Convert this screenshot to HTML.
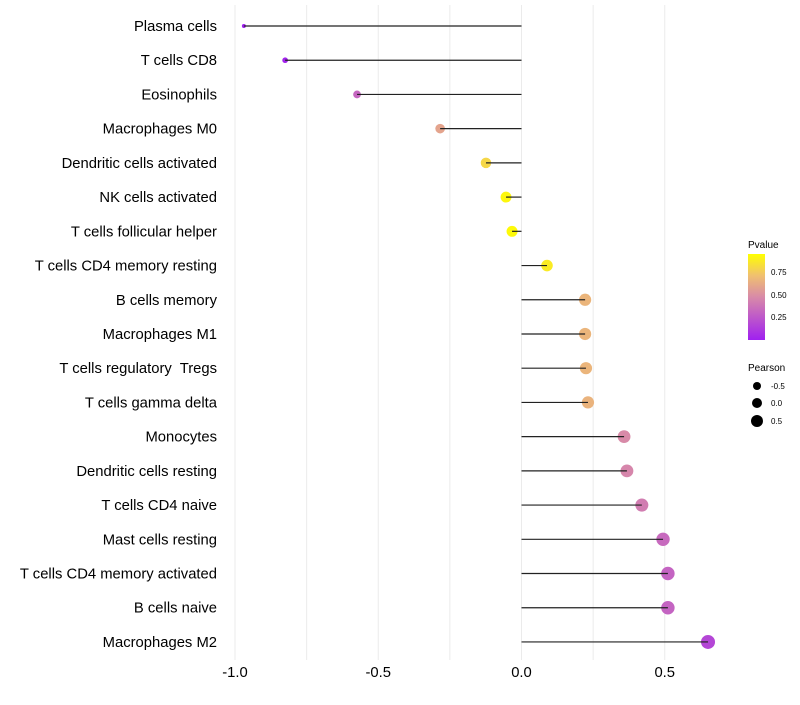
<!DOCTYPE html>
<html><head><meta charset="utf-8"><style>
body{margin:0;background:#fff;font-family:"Liberation Sans",sans-serif}
text{white-space:pre}
</style></head><body>
<svg id="chart" width="800" height="700" xmlns="http://www.w3.org/2000/svg" font-family="Liberation Sans, sans-serif">
<defs><linearGradient id="pg" x1="0" y1="1" x2="0" y2="0">
<stop offset="0" stop-color="#a020f0"/><stop offset="0.5" stop-color="#d88aa8"/><stop offset="0.75" stop-color="#f0c070"/><stop offset="1" stop-color="#ffff00"/></linearGradient></defs>
<g id="grid"></g>
<g id="marks"></g>
<g id="labels"></g>
<g id="ticks"></g>
<g>
<text x="748" y="248" font-size="10">Pvalue</text>
<rect x="748" y="254" width="17" height="86" fill="url(#pg)"/>
<text x="771" y="275" font-size="8">0.75</text>
<text x="771" y="298" font-size="8">0.50</text>
<text x="771" y="320" font-size="8">0.25</text>
</g>
<g>
<text x="748" y="371" font-size="10">Pearson</text>
<circle cx="757" cy="386" r="4" fill="#000"/>
<circle cx="757" cy="403" r="5" fill="#000"/>
<circle cx="757" cy="421" r="6" fill="#000"/>
<text x="771" y="389" font-size="8">-0.5</text>
<text x="771" y="406" font-size="8">0.0</text>
<text x="771" y="424" font-size="8">0.5</text>
</g>
</svg>
<script>
const categories=["Plasma cells","T cells CD8","Eosinophils","Macrophages M0","Dendritic cells activated","NK cells activated","T cells follicular helper","T cells CD4 memory resting","B cells memory","Macrophages M1","T cells regulatory  Tregs","T cells gamma delta","Monocytes","Dendritic cells resting","T cells CD4 naive","Mast cells resting","T cells CD4 memory activated","B cells naive","Macrophages M2"];
const pearson=[-0.969,-0.825,-0.574,-0.284,-0.124,-0.054,-0.033,0.089,0.222,0.222,0.225,0.232,0.358,0.368,0.42,0.494,0.511,0.511,0.651];
const pvalue=[0.0,0.02,0.33,0.62,0.84,0.97,0.98,0.92,0.7,0.7,0.7,0.69,0.5,0.48,0.44,0.35,0.32,0.32,0.18];
const xTicks=[-1.0,-0.5,0.0,0.5];
const xTickLabels=["-1.0","-0.5","0.0","0.5"];
const minorTicks=[-0.75,-0.25,0.25];
const NS="http://www.w3.org/2000/svg";
const x=v=>521.5+v*286.5;
const y=i=>26+i*34.22;
const rad=p=>Math.sqrt(Math.max(1,31+27.8*p));
function mk(tag,attrs,parent){const e=document.createElementNS(NS,tag);for(const k in attrs)e.setAttribute(k,attrs[k]);document.getElementById(parent).appendChild(e);return e;}
function hex(h){return [1,3,5].map(i=>parseInt(h.substr(i,2),16));}
const stops=[[0,"#a020f0"],[0.5,"#d88aa8"],[0.75,"#f0c070"],[1,"#ffff00"]];
function col(p){for(let i=0;i<stops.length-1;i++){const[a,ca]=stops[i],[b,cb]=stops[i+1];if(p<=b){const t=(p-a)/(b-a),A=hex(ca),B=hex(cb);return "rgb("+A.map((v,j)=>Math.round(v+(B[j]-v)*t)).join(",")+")";}}return "#ffff00";}
xTicks.concat(minorTicks).forEach(v=>{
const g=mk("line",{x1:x(v),x2:x(v),y1:5,y2:660,stroke:"#ebebeb","stroke-width":1},"grid");


});
xTicks.forEach((v,i)=>{
const t=mk("text",{x:x(v),y:677,"font-size":14.8,"text-anchor":"middle",fill:"#000"},"ticks");
t.textContent=xTickLabels[i];


});
categories.forEach((c,i)=>{
const d=mk("circle",{cx:x(pearson[i]),cy:y(i),r:rad(pearson[i]),fill:col(pvalue[i])},"marks");


const l=mk("line",{x1:x(0),x2:x(pearson[i]),y1:y(i),y2:y(i),stroke:"#222","stroke-width":1.2},"marks");


const t=mk("text",{x:217,y:y(i)+5,"font-size":14.8,"text-anchor":"end",fill:"#000"},"labels");
t.textContent=c;


});
</script>
</body></html>
